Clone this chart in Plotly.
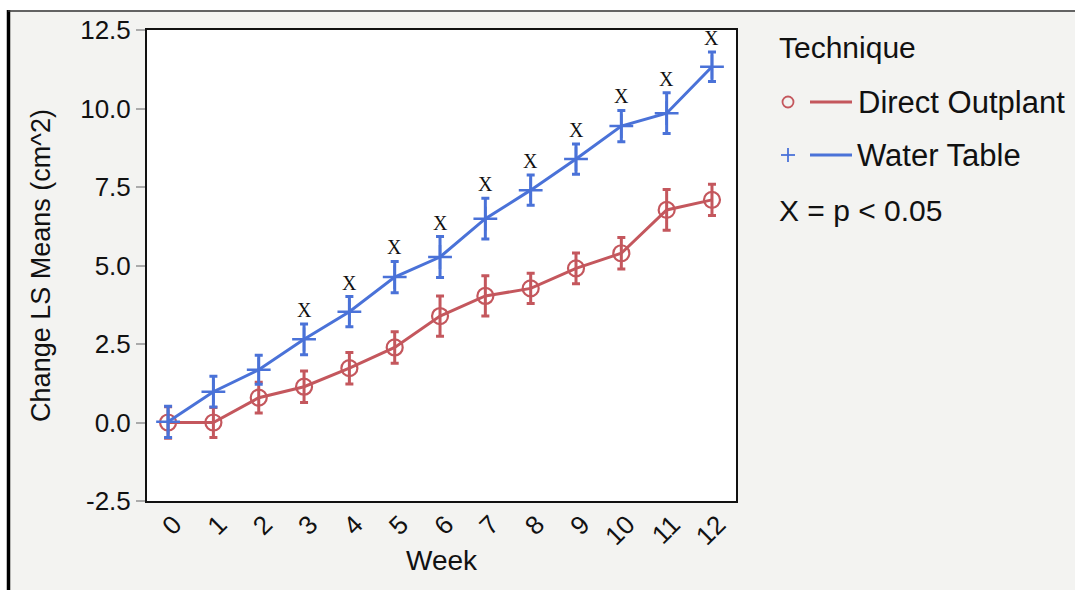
import plotly.graph_objects as go

weeks = list(range(13))
direct_mean = [0.0, 0.0, 0.79, 1.14, 1.73, 2.39, 3.39, 4.03, 4.27, 4.91, 5.39, 6.77, 7.09]
direct_err = [0.5, 0.48, 0.49, 0.5, 0.5, 0.5, 0.64, 0.64, 0.48, 0.49, 0.5, 0.65, 0.5]
water_mean = [0.02, 0.98, 1.68, 2.65, 3.53, 4.63, 5.27, 6.49, 7.4, 8.39, 9.44, 9.85, 11.33]
water_err = [0.5, 0.49, 0.46, 0.49, 0.48, 0.5, 0.65, 0.65, 0.48, 0.48, 0.5, 0.65, 0.47]
significant = [False, False, False, True, True, True, True, True, True, True, True, True, True]
y_ticks = [-2.5, 0.0, 2.5, 5.0, 7.5, 10.0, 12.5]

RED = "#c4575d"
BLUE = "#4a72d8"
FONT = "Liberation Sans, Arial, sans-serif"

W, H = 1075, 590
PL, PR, PT, PB = 147, 736, 30, 501


def px(xp):
    return (xp - PL) / (PR - PL)


def py(yp):
    return (PB - yp) / (PB - PT)


fig = go.Figure()
fig.add_trace(go.Scatter(
    x=weeks, y=direct_mean, mode="lines+markers", name="Direct Outplant",
    line=dict(color=RED, width=3),
    marker=dict(symbol="circle-open", size=16, color=RED, line=dict(width=2.2, color=RED)),
    error_y=dict(type="data", array=direct_err, color=RED, thickness=3, width=4),
    showlegend=False,
))
fig.add_trace(go.Scatter(
    x=weeks, y=water_mean, mode="lines+markers", name="Water Table",
    line=dict(color=BLUE, width=3),
    marker=dict(symbol="cross-thin-open", size=17, color=BLUE, line=dict(width=2.5, color=BLUE)),
    error_y=dict(type="data", array=water_err, color=BLUE, thickness=3, width=4),
    showlegend=False,
))

annotations = []
for w, m, e, s in zip(weeks, water_mean, water_err, significant):
    if s:
        annotations.append(dict(
            x=w, y=m + e, xref="x", yref="y", text="X", showarrow=False,
            yanchor="bottom", yshift=1,
            font=dict(family="Liberation Serif, Times New Roman, serif", size=20, color="#111"),
        ))

# legend (custom)
leg_font = dict(family=FONT, size=30, color="#111")
leg_font2 = dict(family=FONT, size=31, color="#111")
annotations += [
    dict(x=px(777), y=py(47), xref="paper", yref="paper", text="Technique", showarrow=False,
         xanchor="left", yanchor="middle", font=leg_font),
    dict(x=px(856), y=py(103), xref="paper", yref="paper", text="Direct Outplant", showarrow=False,
         xanchor="left", yanchor="middle", font=leg_font2),
    dict(x=px(855), y=py(155), xref="paper", yref="paper", text="Water Table", showarrow=False,
         xanchor="left", yanchor="middle", font=leg_font2),
    dict(x=px(777), y=py(210), xref="paper", yref="paper", text="X = p &lt; 0.05", showarrow=False,
         xanchor="left", yanchor="middle", font=leg_font),
]

shapes = [
    # page framing
    dict(type="rect", xref="paper", yref="paper", x0=px(-5), x1=px(7), y0=py(600), y1=py(-5),
         fillcolor="white", line=dict(width=0), layer="below"),
    dict(type="rect", xref="paper", yref="paper", x0=px(-5), x1=px(1085), y0=py(10), y1=py(-5),
         fillcolor="white", line=dict(width=0), layer="below"),
    dict(type="line", xref="paper", yref="paper", x0=px(8.5), x1=px(8.5), y0=py(595), y1=py(10),
         line=dict(color="black", width=3.5)),
    dict(type="line", xref="paper", yref="paper", x0=px(8), x1=px(1080), y0=py(11), y1=py(11),
         line=dict(color="#333", width=1.5)),
    # legend symbols
    dict(type="circle", xref="paper", yref="paper", xsizemode="pixel", ysizemode="pixel",
         xanchor=px(788), yanchor=py(102), x0=-5.5, x1=5.5, y0=-5.5, y1=5.5,
         line=dict(color=RED, width=1.8)),
    dict(type="line", xref="paper", yref="paper", x0=px(810), x1=px(852), y0=py(102), y1=py(102),
         line=dict(color=RED, width=3)),
    dict(type="line", xref="paper", yref="paper", x0=px(781), x1=px(795), y0=py(155), y1=py(155),
         line=dict(color=BLUE, width=1.8)),
    dict(type="line", xref="paper", yref="paper", x0=px(788), x1=px(788), y0=py(148), y1=py(162),
         line=dict(color=BLUE, width=1.8)),
    dict(type="line", xref="paper", yref="paper", x0=px(810), x1=px(852), y0=py(155), y1=py(155),
         line=dict(color=BLUE, width=3)),
]

fig.update_layout(
    width=W, height=H,
    margin=dict(l=PL, r=W - PR, t=PT, b=H - PB, autoexpand=False),
    paper_bgcolor="#f3f3f1", plot_bgcolor="white",
    font=dict(family=FONT, color="#111"),
    annotations=annotations, shapes=shapes,
    showlegend=False,
)
fig.update_xaxes(
    range=[-0.465, 12.53], tickvals=weeks, ticktext=[str(w) for w in weeks],
    tickangle=-45, ticks="", showgrid=False, zeroline=False, automargin=False,
    showline=True, linecolor="#111", linewidth=2, mirror=True,
    tickfont=dict(size=26, family=FONT, color="#111"), ticklabelshift=6, ticklabelstandoff=-4,
    title=dict(text="Week", font=dict(size=28, family=FONT, color="#111"), standoff=0),
)
fig.update_yaxes(
    range=[-2.5, 12.5], tickvals=y_ticks, ticktext=[f"{v:.1f}" for v in y_ticks],
    ticks="outside", ticklen=9, tickcolor="#aaa", tickwidth=1.5,
    showgrid=False, zeroline=False, automargin=False,
    showline=True, linecolor="#111", linewidth=2, mirror=True,
    tickfont=dict(size=26, family=FONT, color="#111"),
    title=dict(text="Change LS Means (cm^2)", font=dict(size=27, family=FONT, color="#111"), standoff=22),
)

fig.write_html("out.html")
